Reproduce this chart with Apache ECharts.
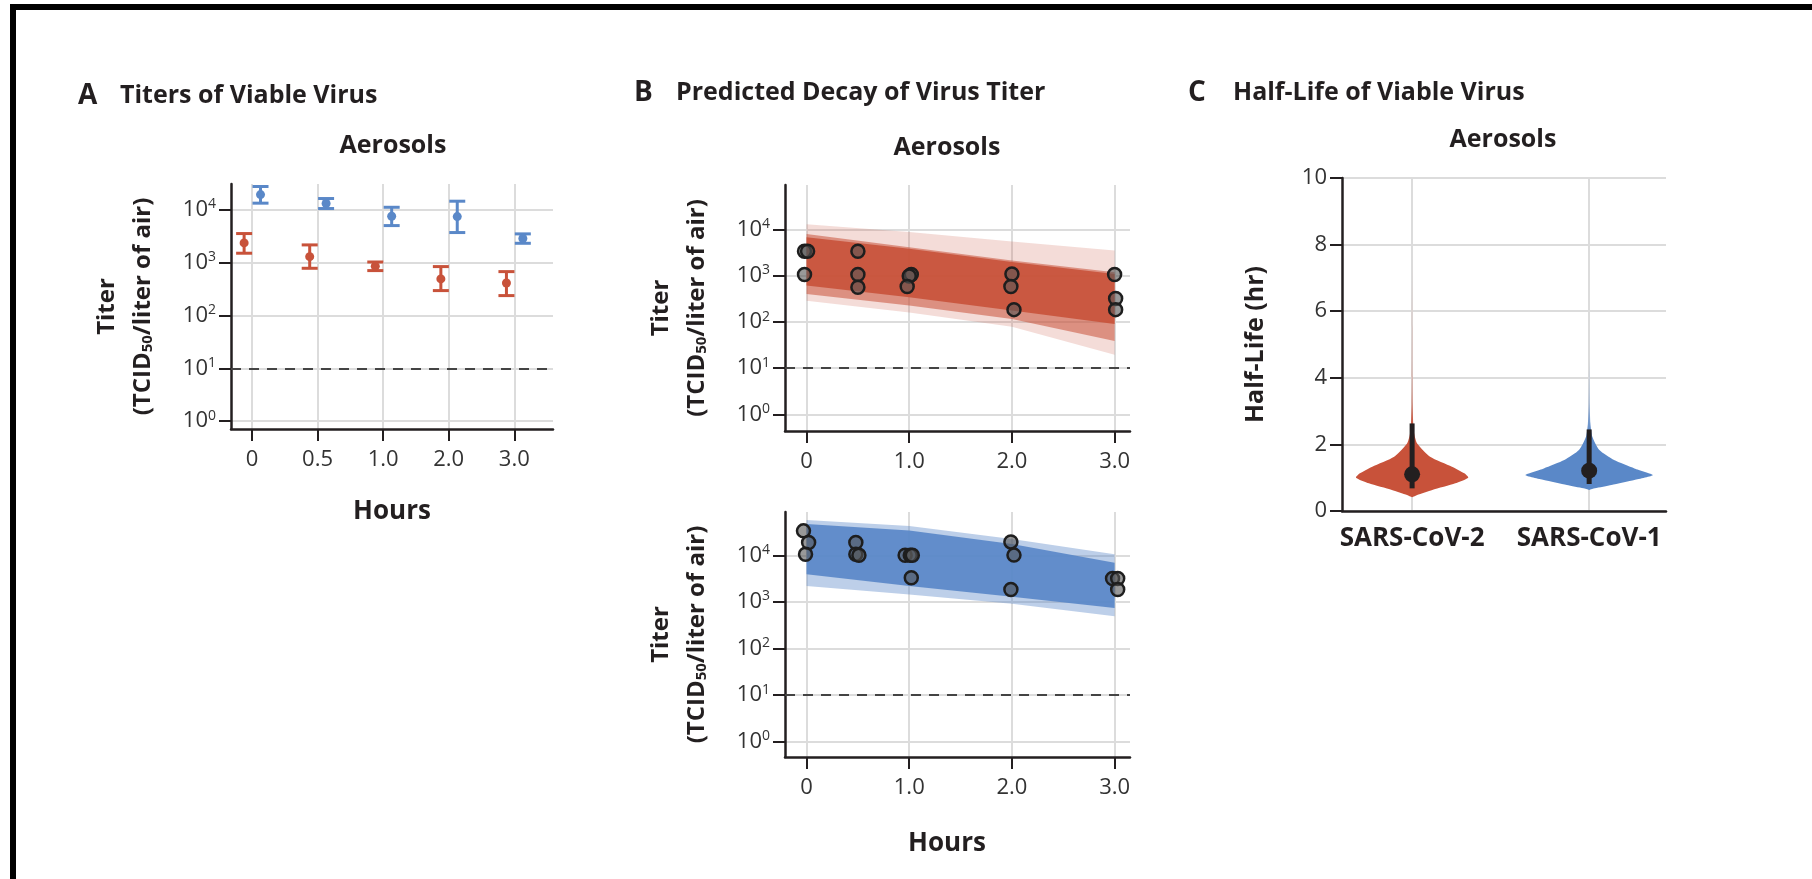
<!DOCTYPE html>
<html>
<head>
<meta charset="utf-8">
<title>Aerosol stability of SARS-CoV-2 and SARS-CoV-1</title>
<script src="https://cdn.jsdelivr.net/npm/echarts@6/dist/echarts.min.js"></script>
<style>
  html, body { margin: 0; padding: 0; background: #fff; }
  #chart { width: 1812px; height: 879px; }
  .frameTop { position: absolute; left: 10px; top: 4px; width: 1802px; height: 6px; background: #000; }
  .frameLeft { position: absolute; left: 10px; top: 4px; width: 6px; height: 875px; background: #000; }
</style>
</head>
<body>
<div id="chart"></div>
<div class="frameTop"></div>
<div class="frameLeft"></div>
<script>
// panel A - titer of viable virus (mean with error range) per sampling time
var hourLabels = ['0', '0.5', '1.0', '2.0', '3.0'];
var cov2Mean = [2370, 1300, 855, 492, 413];
var cov2Low = [1510, 783, 708, 296, 238];
var cov2High = [3560, 2170, 1030, 843, 677];
var cov1Mean = [19500, 13200, 7580, 7470, 2870];
var cov1Low = [13400, 10600, 5040, 3720, 2330];
var cov1High = [27700, 16400, 11200, 14600, 3510];
var detectionLimit = 10;
var decadeTicks = [0, 1, 2, 3, 4];

// panel B - replicate measurements
var cov2PointHours = [-0.02, 0.01, -0.02, 0.5, 0.5, 0.5, 1.02, 1.0, 0.98, 2.0, 1.99, 2.02, 3.0, 3.01, 3.01];
var cov2PointTiter = [3430, 3430, 1070, 3430, 1070, 567, 1070, 1000, 590, 1100, 590, 186, 1070, 325, 186];
var cov1PointHours = [-0.03, 0.02, -0.01, 0.48, 0.48, 0.51, 0.96, 1.01, 1.03, 1.02, 1.99, 2.02, 1.99, 2.98, 3.03, 3.03];
var cov1PointTiter = [33500, 18800, 10500, 18800, 10500, 10000, 10000, 10000, 10000, 3300, 19400, 10100, 1850, 3180, 3180, 1850];

// panel B - envelope of the predicted decay lines, titer at 0, 1, 2, 3 h
var bandHours = [0, 1, 2, 3];
var cov2OuterHigh = [13200, 8900, 5600, 3550];
var cov2OuterLow = [288, 162, 79, 19.5];
var cov2MidHigh = [8100, 4200, 2150, 1200];
var cov2MidLow = [407, 229, 117, 39];
var cov2CoreHigh = [6900, 3900, 2000, 1100];
var cov2CoreLow = [617, 347, 178, 91];
var cov1OuterHigh = [57500, 42700, 22400, 10500];
var cov1OuterLow = [2190, 1450, 910, 490];
var cov1CoreHigh = [46800, 33900, 17400, 6900];
var cov1CoreLow = [3900, 2190, 1290, 740];

// panel C - half-life posterior (relative density along half-life in hours)
var virusNames = ['SARS-CoV-2', 'SARS-CoV-1'];
var cov2HalfLife = [0.41, 0.48, 0.63, 0.83, 1.0, 1.13, 1.33, 1.63, 2.03, 2.3, 2.63, 3.2, 4.0, 5.5, 7.8];
var cov2Density = [0, 0.09, 0.36, 0.77, 1.0, 0.93, 0.71, 0.32, 0.09, 0.04, 0.02, 0.01, 0.006, 0.004, 0];
var cov1HalfLife = [0.63, 0.68, 0.78, 0.93, 1.08, 1.28, 1.53, 1.83, 2.23, 2.63, 3.2, 3.9, 4.6];
var cov1Density = [0, 0.09, 0.35, 0.71, 1.0, 0.71, 0.39, 0.16, 0.05, 0.02, 0.009, 0.005, 0];
var halfLifeMedian = [1.10, 1.21];
var halfLifeLow = [0.68, 0.81];
var halfLifeHigh = [2.63, 2.45];

(function () {
  var red = '#c8523a';
  var blue = '#5a88c8';
  var ink = '#231f20';
  var gridGray = '#dcdcdc';
  var font = 'Open Sans';

  function lg(v) { return Math.log10(v); }

  // error bars (panel A)
  function renderErrorBar(params, api) {
    var top = api.coord([api.value(0), api.value(2)]);
    var bot = api.coord([api.value(0), api.value(1)]);
    var cap = 8;
    var style = { stroke: api.visual('color'), lineWidth: 3 };
    return {
      type: 'group',
      children: [
        { type: 'line', shape: { x1: top[0], y1: top[1], x2: bot[0], y2: bot[1] }, style: style },
        { type: 'line', shape: { x1: top[0] - cap, y1: top[1], x2: top[0] + cap, y2: top[1] }, style: style },
        { type: 'line', shape: { x1: bot[0] - cap, y1: bot[1], x2: bot[0] + cap, y2: bot[1] }, style: style }
      ]
    };
  }

  // prediction bands (panel B)
  function bandRenderer(layers) {
    return function (params, api) {
      var layer = layers[params.dataIndex];
      var pts = [];
      for (var i = 0; i < bandHours.length; i++) {
        pts.push(api.coord([bandHours[i], lg(layer.high[i])]));
      }
      for (var j = bandHours.length - 1; j >= 0; j--) {
        pts.push(api.coord([bandHours[j], lg(layer.low[j])]));
      }
      return { type: 'polygon', shape: { points: pts }, style: { fill: layer.color } };
    };
  }
  var cov2Layers = [
    { high: cov2OuterHigh, low: cov2OuterLow, color: 'rgba(200,82,58,0.2)' },
    { high: cov2MidHigh, low: cov2MidLow, color: 'rgba(200,82,58,0.55)' },
    { high: cov2CoreHigh, low: cov2CoreLow, color: 'rgba(200,82,58,0.9)' }
  ];
  var cov1Layers = [
    { high: cov1OuterHigh, low: cov1OuterLow, color: 'rgba(90,136,200,0.4)' },
    { high: cov1CoreHigh, low: cov1CoreLow, color: 'rgba(90,136,200,0.92)' }
  ];

  // violins (panel C), the thin upper tail fades out
  var violins = [
    { y: cov2HalfLife, d: cov2Density, rgb: '200,82,58' },
    { y: cov1HalfLife, d: cov1Density, rgb: '90,136,200' }
  ];
  var violinHalfWidth = [0.317, 0.36];
  function renderViolin(params, api) {
    var k = params.dataIndex;
    var v = violins[k];
    var cx = api.value(0);
    var pts = [];
    for (var i = 0; i < v.y.length; i++) {
      pts.push(api.coord([cx + v.d[i] * violinHalfWidth[k], v.y[i]]));
    }
    for (var j = v.y.length - 1; j >= 0; j--) {
      pts.push(api.coord([cx - v.d[j] * violinHalfWidth[k], v.y[j]]));
    }
    var tailTop = api.coord([cx, v.y[v.y.length - 1]])[1];
    var tailStart = api.coord([cx, 2.3])[1];
    var fill = new echarts.graphic.LinearGradient(0, tailTop, 0, tailStart, [
      { offset: 0, color: 'rgba(' + v.rgb + ',0.15)' },
      { offset: 0.6, color: 'rgba(' + v.rgb + ',0.5)' },
      { offset: 1, color: 'rgb(' + v.rgb + ')' }
    ], true);
    var lo = api.coord([cx, halfLifeLow[k]]);
    var hi = api.coord([cx, halfLifeHigh[k]]);
    var med = api.coord([cx, api.value(1)]);
    return {
      type: 'group',
      children: [
        { type: 'polygon', shape: { points: pts, smooth: 0.2 }, style: { fill: fill } },
        { type: 'line', shape: { x1: lo[0], y1: lo[1], x2: hi[0], y2: hi[1] }, style: { stroke: ink, lineWidth: 5 } },
        { type: 'circle', shape: { cx: med[0], cy: med[1], r: 8 }, style: { fill: ink } }
      ]
    };
  }

  var nameStyle = {
    color: ink, fontFamily: font, fontSize: 24, fontWeight: 'bold', lineHeight: 36,
    rich: { sub: { fontFamily: font, fontSize: 15, fontWeight: 'bold', color: ink, padding: [10, 0, 0, 0] } }
  };
  var titerName = 'Titer\n(TCID{sub|50}/liter of air)';

  function titerAxis(gridIndex, min, max) {
    return {
      type: 'value', gridIndex: gridIndex, min: min, max: max,
      axisLine: { show: true, onZero: false, lineStyle: { color: ink, width: 2.5 } },
      axisTick: { show: true, length: 12, customValues: decadeTicks, lineStyle: { color: ink, width: 2 } },
      axisLabel: {
        customValues: decadeTicks, margin: 15, color: '#333', fontFamily: font, fontSize: 22,
        formatter: function (v) { return '10{sup|' + v + '}'; },
        rich: { sup: { fontFamily: font, fontSize: 14, color: '#333', padding: [0, 0, 11, 0] } }
      },
      splitLine: { show: true, lineStyle: { color: gridGray, width: 2 } },
      name: titerName, nameLocation: 'middle', nameRotate: 90, nameGap: 70, nameTextStyle: nameStyle
    };
  }

  function hoursAxis(gridIndex, min, max, ticks, withName, nameGap) {
    var ax = {
      type: 'value', gridIndex: gridIndex, min: min, max: max,
      axisLine: { show: true, onZero: false, lineStyle: { color: ink, width: 2.5 } },
      axisTick: { show: true, length: 12, customValues: ticks, lineStyle: { color: ink, width: 2 } },
      axisLabel: {
        customValues: ticks, margin: 20, color: '#333', fontFamily: font, fontSize: 22,
        formatter: function (v) { return v === 0 ? '0' : v.toFixed(1); }
      },
      splitLine: { show: true, lineStyle: { color: gridGray, width: 2 } }
    };
    if (withName) {
      ax.name = 'Hours';
      ax.nameLocation = 'middle';
      ax.nameGap = nameGap;
      ax.nameTextStyle = { color: ink, fontFamily: font, fontSize: 26, fontWeight: 'bold', padding: [0, 21, 0, 0] };
    }
    return ax;
  }

  var limitLine = {
    silent: true, symbol: ['none', 'none'], label: { show: false },
    lineStyle: { type: [10, 8], color: '#444', width: 2 },
    data: [{ yAxis: lg(detectionLimit) }]
  };

  var pointStyle = { color: 'rgba(85,85,85,0.6)', borderColor: '#1e1e1e', borderWidth: 2.5, opacity: 1 };
  var idx = hourLabels.map(function (_, i) { return i; });

  var chart = echarts.init(document.getElementById('chart'));
  var option = {
    backgroundColor: '#fff',
    animation: false,
    textStyle: { fontFamily: font },
    grid: [
      { left: 231, top: 184, width: 322, height: 245 },
      { left: 785, top: 185, width: 345, height: 246 },
      { left: 785, top: 512, width: 345, height: 245 },
      { left: 1342, top: 178, width: 324, height: 333 }
    ],
    xAxis: [
      (function () {
        var ax = hoursAxis(0, -0.32, 4.59, idx, true, 70);
        ax.axisLabel.formatter = function (v) { return hourLabels[v]; };
        ax.nameTextStyle.padding = [0, 0, 0, 0];
        return ax;
      })(),
      hoursAxis(1, -0.21, 3.15, bandHours, false),
      hoursAxis(2, -0.21, 3.15, bandHours, true, 74),
      {
        type: 'value', gridIndex: 3, min: -0.396, max: 1.434,
        axisLine: { show: true, onZero: false, lineStyle: { color: ink, width: 2.5 } },
        axisTick: { show: false, customValues: [0, 1] },
        axisLabel: {
          customValues: [0, 1], margin: 15, color: ink, fontFamily: font, fontSize: 26, fontWeight: 'bold',
          formatter: function (v) { return virusNames[v]; }
        },
        splitLine: { show: true, lineStyle: { color: gridGray, width: 2 } }
      }
    ],
    yAxis: [
      titerAxis(0, -0.15, 4.49),
      titerAxis(1, -0.36, 4.97),
      titerAxis(2, -0.33, 4.93),
      {
        type: 'value', gridIndex: 3, min: 0, max: 10, interval: 2,
        axisLine: { show: true, onZero: false, lineStyle: { color: ink, width: 2.5 } },
        axisTick: { show: true, length: 12, lineStyle: { color: ink, width: 2 } },
        axisLabel: { margin: 15, color: '#333', fontFamily: font, fontSize: 22 },
        splitLine: { show: true, lineStyle: { color: gridGray, width: 2 } },
        name: 'Half-Life (hr)', nameLocation: 'middle', nameRotate: 90, nameGap: 74,
        nameTextStyle: { color: ink, fontFamily: font, fontSize: 25, fontWeight: 'bold' }
      }
    ],
    graphic: [
      { type: 'text', x: 78, y: 96, style: { text: 'A', fill: ink, fontFamily: font, fontSize: 28, fontWeight: 'bold', verticalAlign: 'middle' } },
      { type: 'text', x: 120, y: 96, style: { text: 'Titers of Viable Virus', fill: ink, fontFamily: font, fontSize: 25, fontWeight: 'bold', verticalAlign: 'middle' } },
      { type: 'text', x: 634, y: 93, style: { text: 'B', fill: ink, fontFamily: font, fontSize: 28, fontWeight: 'bold', verticalAlign: 'middle' } },
      { type: 'text', x: 676, y: 93, style: { text: 'Predicted Decay of Virus Titer', fill: ink, fontFamily: font, fontSize: 25, fontWeight: 'bold', verticalAlign: 'middle' } },
      { type: 'text', x: 1188, y: 93, style: { text: 'C', fill: ink, fontFamily: font, fontSize: 28, fontWeight: 'bold', verticalAlign: 'middle' } },
      { type: 'text', x: 1233, y: 93, style: { text: 'Half-Life of Viable Virus', fill: ink, fontFamily: font, fontSize: 25, fontWeight: 'bold', verticalAlign: 'middle' } },
      { type: 'text', x: 393, y: 146, style: { text: 'Aerosols', fill: ink, fontFamily: font, fontSize: 25, fontWeight: 'bold', align: 'center', verticalAlign: 'middle' } },
      { type: 'text', x: 947, y: 148, style: { text: 'Aerosols', fill: ink, fontFamily: font, fontSize: 25, fontWeight: 'bold', align: 'center', verticalAlign: 'middle' } },
      { type: 'text', x: 1503, y: 140, style: { text: 'Aerosols', fill: ink, fontFamily: font, fontSize: 25, fontWeight: 'bold', align: 'center', verticalAlign: 'middle' } }
    ],
    series: [
      {
        name: 'SARS-CoV-2 range', type: 'custom', xAxisIndex: 0, yAxisIndex: 0,
        itemStyle: { color: red }, renderItem: renderErrorBar,
        data: idx.map(function (i) { return [i - 0.12, lg(cov2Low[i]), lg(cov2High[i])]; }),
        markLine: limitLine
      },
      {
        name: 'SARS-CoV-2 mean', type: 'scatter', xAxisIndex: 0, yAxisIndex: 0,
        symbolSize: 9, itemStyle: { color: red, opacity: 1 },
        data: idx.map(function (i) { return [i - 0.12, lg(cov2Mean[i])]; })
      },
      {
        name: 'SARS-CoV-1 range', type: 'custom', xAxisIndex: 0, yAxisIndex: 0,
        itemStyle: { color: blue }, renderItem: renderErrorBar,
        data: idx.map(function (i) { return [i + 0.13, lg(cov1Low[i]), lg(cov1High[i])]; })
      },
      {
        name: 'SARS-CoV-1 mean', type: 'scatter', xAxisIndex: 0, yAxisIndex: 0,
        symbolSize: 9, itemStyle: { color: blue, opacity: 1 },
        data: idx.map(function (i) { return [i + 0.13, lg(cov1Mean[i])]; })
      },
      {
        name: 'SARS-CoV-2 decay', type: 'custom', xAxisIndex: 1, yAxisIndex: 1,
        renderItem: bandRenderer(cov2Layers),
        data: cov2Layers.map(function (l) { return [bandHours[0], lg(l.high[0])]; }),
        markLine: limitLine
      },
      {
        name: 'SARS-CoV-2 replicates', type: 'scatter', xAxisIndex: 1, yAxisIndex: 1,
        symbolSize: 13, itemStyle: pointStyle,
        data: cov2PointHours.map(function (h, i) { return [h, lg(cov2PointTiter[i])]; })
      },
      {
        name: 'SARS-CoV-1 decay', type: 'custom', xAxisIndex: 2, yAxisIndex: 2,
        renderItem: bandRenderer(cov1Layers),
        data: cov1Layers.map(function (l) { return [bandHours[0], lg(l.high[0])]; }),
        markLine: limitLine
      },
      {
        name: 'SARS-CoV-1 replicates', type: 'scatter', xAxisIndex: 2, yAxisIndex: 2,
        symbolSize: 13, itemStyle: pointStyle,
        data: cov1PointHours.map(function (h, i) { return [h, lg(cov1PointTiter[i])]; })
      },
      {
        name: 'Half-life', type: 'custom', xAxisIndex: 3, yAxisIndex: 3,
        renderItem: renderViolin,
        data: virusNames.map(function (_, i) { return [i, halfLifeMedian[i]]; })
      }
    ]
  };
  chart.setOption(option);
  window.addEventListener('resize', function () {
    chart.resize();
  });
})();
</script>
</body>
</html>
